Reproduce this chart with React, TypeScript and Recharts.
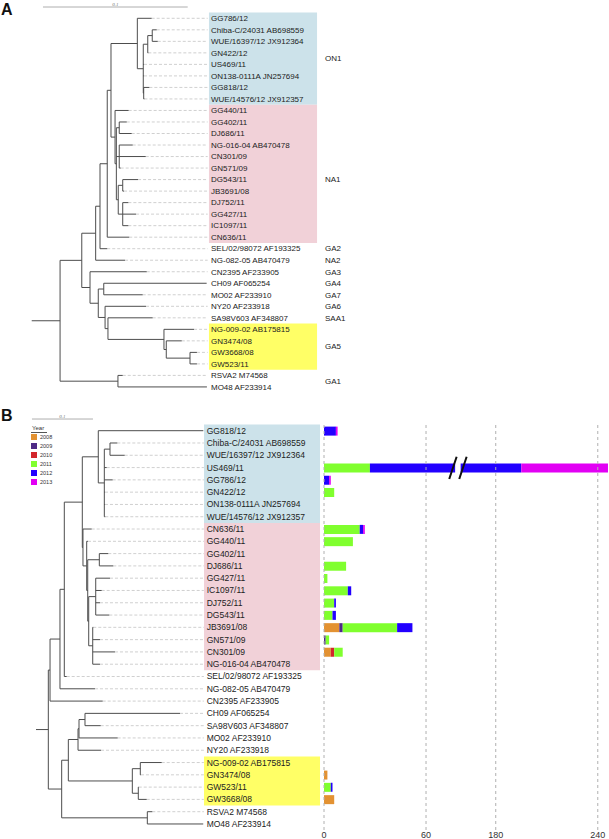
import {
  ComposedChart, BarChart, Bar, Scatter, XAxis, YAxis,
  ReferenceLine, ReferenceArea, ReferenceDot,
} from "recharts";

const FONT = '"Liberation Sans", Arial, Helvetica, sans-serif';

// ---- tree data (branch depths in 0.001 subst/site) ----
type TNode = { d: number; name?: string; c?: TNode[] };
const T = (d: number, name: string): TNode => ({ d, name });
const N = (d: number, ...c: TNode[]): TNode => ({ d, c });

const TIPS_A = [
  "GG786/12", "Chiba-C/24031 AB698559", "WUE/16397/12 JX912364", "GN422/12", "US469/11",
  "ON138-0111A JN257694", "GG818/12", "WUE/14576/12 JX912357",
  "GG440/11", "GG402/11", "DJ686/11", "NG-016-04 AB470478", "CN301/09", "GN571/09", "DG543/11",
  "JB3691/08", "DJ752/11", "GG427/11", "IC1097/11", "CN636/11",
  "SEL/02/98072 AF193325", "NG-082-05 AB470479", "CN2395 AF233905", "CH09 AF065254",
  "MO02 AF233910", "NY20 AF233918", "SA98V603 AF348807",
  "NG-009-02 AB175815", "GN3474/08", "GW3668/08", "GW523/11", "RSVA2 M74568", "MO48 AF233914",
];

const TREE_A = N(19.6,
  N(34.6,
    N(44.2,
      N(47.2,
        N(52.2,
          N(54.8,
            N(73.0,
              T(82.9, "GG786/12"),
              N(77.1,
                N(80.2,
                  N(83.3, T(86.4, "Chiba-C/24031 AB698559"), T(87.1, "WUE/16397/12 JX912364")),
                  T(80.6, "GN422/12")),
                T(77.6, "US469/11"),
                T(77.6, "ON138-0111A JN257694"),
                N(77.4, T(81.3, "GG818/12"), T(77.9, "WUE/14576/12 JX912357")))),
            N(57.6,
              T(67.0, "GG440/11"),
              N(58.5,
                N(60.5, T(65.7, "GG402/11"), T(69.1, "DJ686/11")),
                N(60.5, T(69.8, "NG-016-04 AB470478"), T(78.8, "CN301/09"), T(61.5, "GN571/09")),
                N(59.8,
                  N(62.9, T(73.5, "DG543/11"), T(63.8, "JB3691/08")),
                  N(62.9, T(66.8, "DJ752/11"), T(72.1, "GG427/11"), T(66.8, "IC1097/11")))))),
          T(67.4, "CN636/11")),
        T(52.2, "SEL/02/98072 AF193325")),
      T(64.5, "NG-082-05 AB470479")),
    N(40.3,
      T(79.5, "CN2395 AF233905"),
      N(46.0,
        N(49.8, T(120.9, "CH09 AF065254"), T(76.7, "MO02 AF233910")),
        N(50.7,
          T(79.0, "NY20 AF233918"),
          N(52.7,
            T(83.6, "SA98V603 AF348807"),
            N(91.4,
              T(112.2, "NG-009-02 AB175815"),
              N(93.0,
                T(103.7, "GN3474/08"),
                N(109.4, T(114.2, "GW3668/08"), T(114.2, "GW523/11"))))))))),
  N(59.6, T(62.9, "RSVA2 M74568"), T(121.1, "MO48 AF233914")));

const TIPS_B = [
  "GG818/12", "Chiba-C/24031 AB698559", "WUE/16397/12 JX912364", "US469/11", "GG786/12",
  "GN422/12", "ON138-0111A JN257694", "WUE/14576/12 JX912357",
  "CN636/11", "GG440/11", "GG402/11", "DJ686/11", "GG427/11", "IC1097/11", "DJ752/11",
  "DG543/11", "JB3691/08", "GN571/09", "CN301/09", "NG-016-04 AB470478",
  "SEL/02/98072 AF193325", "NG-082-05 AB470479", "CN2395 AF233905", "CH09 AF065254",
  "SA98V603 AF348807", "MO02 AF233910", "NY20 AF233918",
  "NG-009-02 AB175815", "GN3474/08", "GW523/11", "GW3668/08", "RSVA2 M74568", "MO48 AF233914",
];

const TREE_B = N(20.2,
  N(23.0,
    N(39.3,
      N(46.4,
        N(75.9,
          N(102.1,
            T(274.3, "GG818/12"),
            N(112.0,
              N(121.3, T(133.3, "Chiba-C/24031 AB698559"), T(145.4, "WUE/16397/12 JX912364")),
              T(115.9, "US469/11"),
              T(125.7, "GG786/12"),
              T(113.1, "GN422/12"),
              T(113.1, "ON138-0111A JN257694"),
              T(113.6, "WUE/14576/12 JX912357"))),
          N(77.0,
            T(91.3, "CN636/11"),
            N(83.1,
              T(85.2, "GG440/11"),
              N(84.8,
                N(103.8, T(118.5, "GG402/11"), T(126.7, "DJ686/11")),
                N(86.4,
                  N(97.9, T(121.3, "GG427/11"), T(107.7, "IC1097/11"), T(104.9, "DJ752/11"), T(120.2, "DG543/11")),
                  N(93.0, T(93.9, "JB3691/08"), T(104.9, "GN571/09"), T(129.5, "CN301/09"), T(104.9, "NG-016-04 AB470478"))))))),
        T(50.3, "SEL/02/98072 AF193325")),
      T(96.7, "NG-082-05 AB470479")),
    T(109.3, "CN2395 AF233905")),
  N(42.1,
    N(53.0,
      N(68.9,
        N(70.5,
          N(80.3, T(236.1, "CH09 AF065254"), T(106.1, "SA98V603 AF348807")),
          T(133.9, "MO02 AF233910")),
        T(106.6, "NY20 AF233918")),
      N(157.9,
        N(171.0, T(206.1, "NG-009-02 AB175815"), T(172.1, "GN3474/08")),
        N(167.7, T(168.4, "GW523/11"), T(181.5, "GW3668/08")))),
    N(182.5, T(190.7, "RSVA2 M74568"), T(273.8, "MO48 AF233914"))));

const CLADES_A = [
  { name: "ON1", from: "GG786/12", to: "WUE/14576/12 JX912357" },
  { name: "NA1", from: "GG440/11", to: "CN636/11" },
  { name: "GA5", from: "NG-009-02 AB175815", to: "GW523/11" },
];
const CLADES_B = [
  { name: "ON1", from: "GG818/12", to: "WUE/14576/12 JX912357" },
  { name: "NA1", from: "CN636/11", to: "NG-016-04 AB470478" },
  { name: "GA5", from: "NG-009-02 AB175815", to: "GW3668/08" },
];
const GENOTYPES_A = [
  { label: "ON1", row: 3.5 }, { label: "NA1", row: 14 }, { label: "GA2", row: 20 },
  { label: "NA2", row: 21 }, { label: "GA3", row: 22 }, { label: "GA4", row: 23 },
  { label: "GA7", row: 24 }, { label: "GA6", row: 25 }, { label: "SAA1", row: 26 },
  { label: "GA5", row: 28.5 }, { label: "GA1", row: 31.5 },
];

// ---- isolates per year (panel B bars), same order as TIPS_B ----
const YEARS = [2008, 2009, 2010, 2011, 2012, 2013];
const Y2008 = [0, 0, 0, 0, 0, 0, 0, 0, 0, 0, 0, 0, 0, 0, 0, 0, 9, 0, 4, 0, 0, 0, 0, 0, 0, 0, 0, 0, 2, 0, 6, 0, 0];
const Y2009 = [0, 0, 0, 0, 0, 0, 0, 0, 0, 0, 0, 0, 0, 0, 0, 0, 2, 1, 0, 0, 0, 0, 0, 0, 0, 0, 0, 0, 0, 0, 0, 0, 0];
const Y2010 = [0, 0, 0, 0, 0, 0, 0, 0, 0, 0, 0, 0, 0, 0, 0, 0, 0, 0, 2, 0, 0, 0, 0, 0, 0, 0, 0, 0, 0, 0, 0, 0, 0];
const Y2011 = [0, 0, 0, 27, 0, 6, 0, 0, 21, 17, 0, 13, 2, 14, 6, 5, 32, 2, 5, 0, 0, 0, 0, 0, 0, 0, 0, 0, 0, 4, 0, 0, 0];
const Y2012 = [7, 0, 0, 168, 3, 0, 0, 0, 2, 0, 0, 0, 0, 2, 1, 2, 9, 0, 0, 0, 0, 0, 0, 0, 0, 0, 0, 0, 0, 1, 0, 0, 0];
const Y2013 = [1, 0, 0, 51, 1, 0, 0, 0, 1, 0, 0, 0, 0, 0, 0, 0, 0, 0, 0, 0, 0, 0, 0, 0, 0, 0, 0, 0, 0, 0, 0, 0, 0];
const YEAR_COUNTS = [Y2008, Y2009, Y2010, Y2011, Y2012, Y2013];
const TICK_VALUES = [0, 60, 180, 240];

const YEAR_COLORS = ["#e39232", "#4e2a86", "#d2262b", "#80ff2e", "#2200ff", "#e200f4"];
const CLADE_COLORS: Record<string, string> = { ON1: "#cce2ea", NA1: "#f1d1d8", GA5: "#ffff66" };

// broken axis: values above AXIS_BREAK are shifted left by AXIS_GAP
const AXIS_BREAK = 78;
const AXIS_GAP = 79;
const toDisplay = (v: number) => (v <= AXIS_BREAK ? v : v - AXIS_GAP);

const barRows = TIPS_B.map((name, i) => {
  const row: Record<string, number | string> = { name };
  let cum = 0;
  YEARS.forEach((yr, k) => {
    const next = cum + YEAR_COUNTS[k][i];
    row[`y${yr}`] = toDisplay(next) - toDisplay(cum);
    cum = next;
  });
  return row;
});

// ---- tree layout ----
type Seg = { x1: number; y1: number; x2: number; y2: number };
function layoutTree(root: TNode, tips: string[]) {
  const segs: Seg[] = [];
  const leaves: { d: number; y: number }[] = [];
  const place = (n: TNode): number => {
    if (!n.c) {
      const y = tips.indexOf(n.name as string);
      leaves.push({ d: n.d, y });
      return y;
    }
    const ys = n.c.map((ch) => {
      const y = place(ch);
      segs.push({ x1: n.d, y1: y, x2: ch.d, y2: y });
      return y;
    });
    segs.push({ x1: n.d, y1: ys[0], x2: n.d, y2: ys[ys.length - 1] });
    return (ys[0] + ys[ys.length - 1]) / 2;
  };
  const ry = place(root);
  segs.push({ x1: 0, y1: ry, x2: root.d, y2: ry });
  return { segs, leaves };
}

interface View {
  width: number; height: number;
  xDomain: [number, number]; yDomain: [number, number];
  labelX: number; leaderEnd: number; box: [number, number];
  fontSize: number; groupX?: number;
  scaleBar: [number, number, number];
}

function TreePanel({ tree, tips, clades, groups, view }: {
  tree: TNode; tips: string[]; clades: typeof CLADES_A;
  groups: typeof GENOTYPES_A; view: View;
}) {
  const { segs, leaves } = layoutTree(tree, tips);
  const labels = tips.map((name, i) => ({ x: view.labelX, y: i, name }));
  const groupPts = groups.map((g) => ({ x: view.groupX ?? 0, y: g.row, name: g.label }));
  const textShape = (p: any) => (
    <text x={p.cx} y={p.cy} dy="0.35em" fontSize={view.fontSize} fill="#222" fontFamily={FONT}>
      {p.payload.name}
    </text>
  );
  const [s0, s1, sy] = view.scaleBar;
  return (
    <ComposedChart width={view.width} height={view.height} margin={{ top: 0, right: 0, bottom: 0, left: 0 }}>
      <XAxis type="number" dataKey="x" domain={view.xDomain} allowDataOverflow hide />
      <YAxis type="number" dataKey="y" domain={view.yDomain} allowDataOverflow reversed hide />
      {clades.map((c) => (
        <ReferenceArea
          key={c.name}
          x1={view.box[0]} x2={view.box[1]}
          y1={tips.indexOf(c.from) - 0.5} y2={tips.indexOf(c.to) + 0.5}
          fill={CLADE_COLORS[c.name]} fillOpacity={1} stroke="none" ifOverflow="visible"
        />
      ))}
      {leaves.filter((l) => view.leaderEnd - l.d > 1).map((l, i) => (
        <ReferenceLine
          key={"l" + i}
          segment={[{ x: l.d, y: l.y }, { x: view.leaderEnd, y: l.y }]}
          stroke="#c4c4c4" strokeWidth={0.8} strokeDasharray="3 2" ifOverflow="visible"
        />
      ))}
      {segs.map((s, i) => (
        <ReferenceLine
          key={"s" + i}
          segment={[{ x: s.x1, y: s.y1 }, { x: s.x2, y: s.y2 }]}
          stroke="#4d4d4d" strokeWidth={1} ifOverflow="visible"
        />
      ))}
      <ReferenceLine
        segment={[{ x: s0, y: sy }, { x: s1, y: sy }]}
        stroke="#999" strokeWidth={0.8} ifOverflow="visible"
        label={{ value: "0.1", position: "top", offset: 1, fontSize: 5, fill: "#777", fontStyle: "italic" }}
      />
      <Scatter data={labels} isAnimationActive={false} shape={textShape} />
      {groups.length > 0 && <Scatter data={groupPts} isAnimationActive={false} shape={textShape} />}
    </ComposedChart>
  );
}

const VIEW_A: View = {
  width: 609, height: 400,
  xDomain: [-21.91, 398.96], yDomain: [-1.589, 33.134],
  labelX: 123.9, leaderEnd: 121.6, box: [122.5, 197.2], groupX: 202.7,
  fontSize: 8, scaleBar: [7.8, 107.8, -0.98],
};
const VIEW_B: View = {
  width: 322, height: 439,
  xDomain: [-59.02, 468.85], yDomain: [-2.498, 33.222],
  labelX: 279.8, leaderEnd: 275.2, box: [275.4, 465.6],
  fontSize: 8.5, scaleBar: [-6.6, 93.4, -0.95],
};

const BreakMark = ({ cx, cy }: any) => (
  <g>
    <rect x={cx - 1.5} y={cy - 6} width={5.5} height={12} fill="#fff" />
    <line x1={cx - 7.4} y1={cy + 11.4} x2={cx} y2={cy - 10.9} stroke="#111" strokeWidth={2} />
    <line x1={cx + 2.6} y1={cy + 11.4} x2={cx + 10} y2={cy - 10.9} stroke="#111" strokeWidth={2} />
  </g>
);

const TICK_POS = TICK_VALUES.map(toDisplay);

function YearLegend() {
  return (
    <div style={{ position: "absolute", left: 31, top: 425, fontFamily: FONT, color: "#333" }}>
      <div style={{ fontSize: 6, lineHeight: "7px", borderBottom: "0.8px solid #555", width: 15, paddingLeft: 1 }}>Year</div>
      {YEARS.map((yr, k) => (
        <div key={yr} style={{ display: "flex", alignItems: "center", height: 8.86, fontSize: 5.5 }}>
          <span style={{ width: 6, height: 6, background: YEAR_COLORS[k], display: "inline-block", marginRight: 3 }} />
          {yr}
        </div>
      ))}
    </div>
  );
}

export default function App() {
  const letter = { position: "absolute" as const, left: 1, fontSize: 16, fontWeight: 700, lineHeight: 1, fontFamily: FONT, color: "#111" };
  return (
    <div style={{ position: "absolute", left: 0, top: 0, width: 609, height: 839, overflow: "hidden", background: "#fff" }}>
      <div style={{ position: "absolute", left: 0, top: 0 }}>
        <TreePanel tree={TREE_A} tips={TIPS_A} clades={CLADES_A} groups={GENOTYPES_A} view={VIEW_A} />
      </div>
      <div style={{ position: "absolute", left: 0, top: 400 }}>
        <TreePanel tree={TREE_B} tips={TIPS_B} clades={CLADES_B} groups={[]} view={VIEW_B} />
      </div>
      <div style={{ position: "absolute", left: 300, top: 415 }}>
        <BarChart
          width={309} height={424} data={barRows} layout="vertical"
          margin={{ top: 9.6, right: 0, bottom: 0, left: 24 }} barSize={9}
        >
          <XAxis
            type="number" domain={[0, 167.6]} allowDataOverflow ticks={TICK_POS} interval={0}
            tickFormatter={(v: number) => String(TICK_VALUES[TICK_POS.indexOf(v)] ?? v)}
            axisLine={false} tickLine={false} tickSize={0} tickMargin={2} height={9}
            tick={{ fontSize: 9, fill: "#333", fontFamily: FONT }}
          />
          <YAxis type="category" dataKey="name" hide />
          {TICK_POS.map((v) => (
            <ReferenceLine key={v} x={v} stroke="#b0b0b0" strokeDasharray="3 3" />
          ))}
          {YEARS.map((yr, k) => (
            <Bar key={yr} dataKey={`y${yr}`} name={String(yr)} stackId="a" fill={YEAR_COLORS[k]} isAnimationActive={false} />
          ))}
          <ReferenceDot x={AXIS_BREAK} y="US469/11" r={0} ifOverflow="visible" shape={BreakMark} />
        </BarChart>
      </div>
      <YearLegend />
      <div style={{ ...letter, top: 2 }}>A</div>
      <div style={{ ...letter, top: 408 }}>B</div>
    </div>
  );
}
